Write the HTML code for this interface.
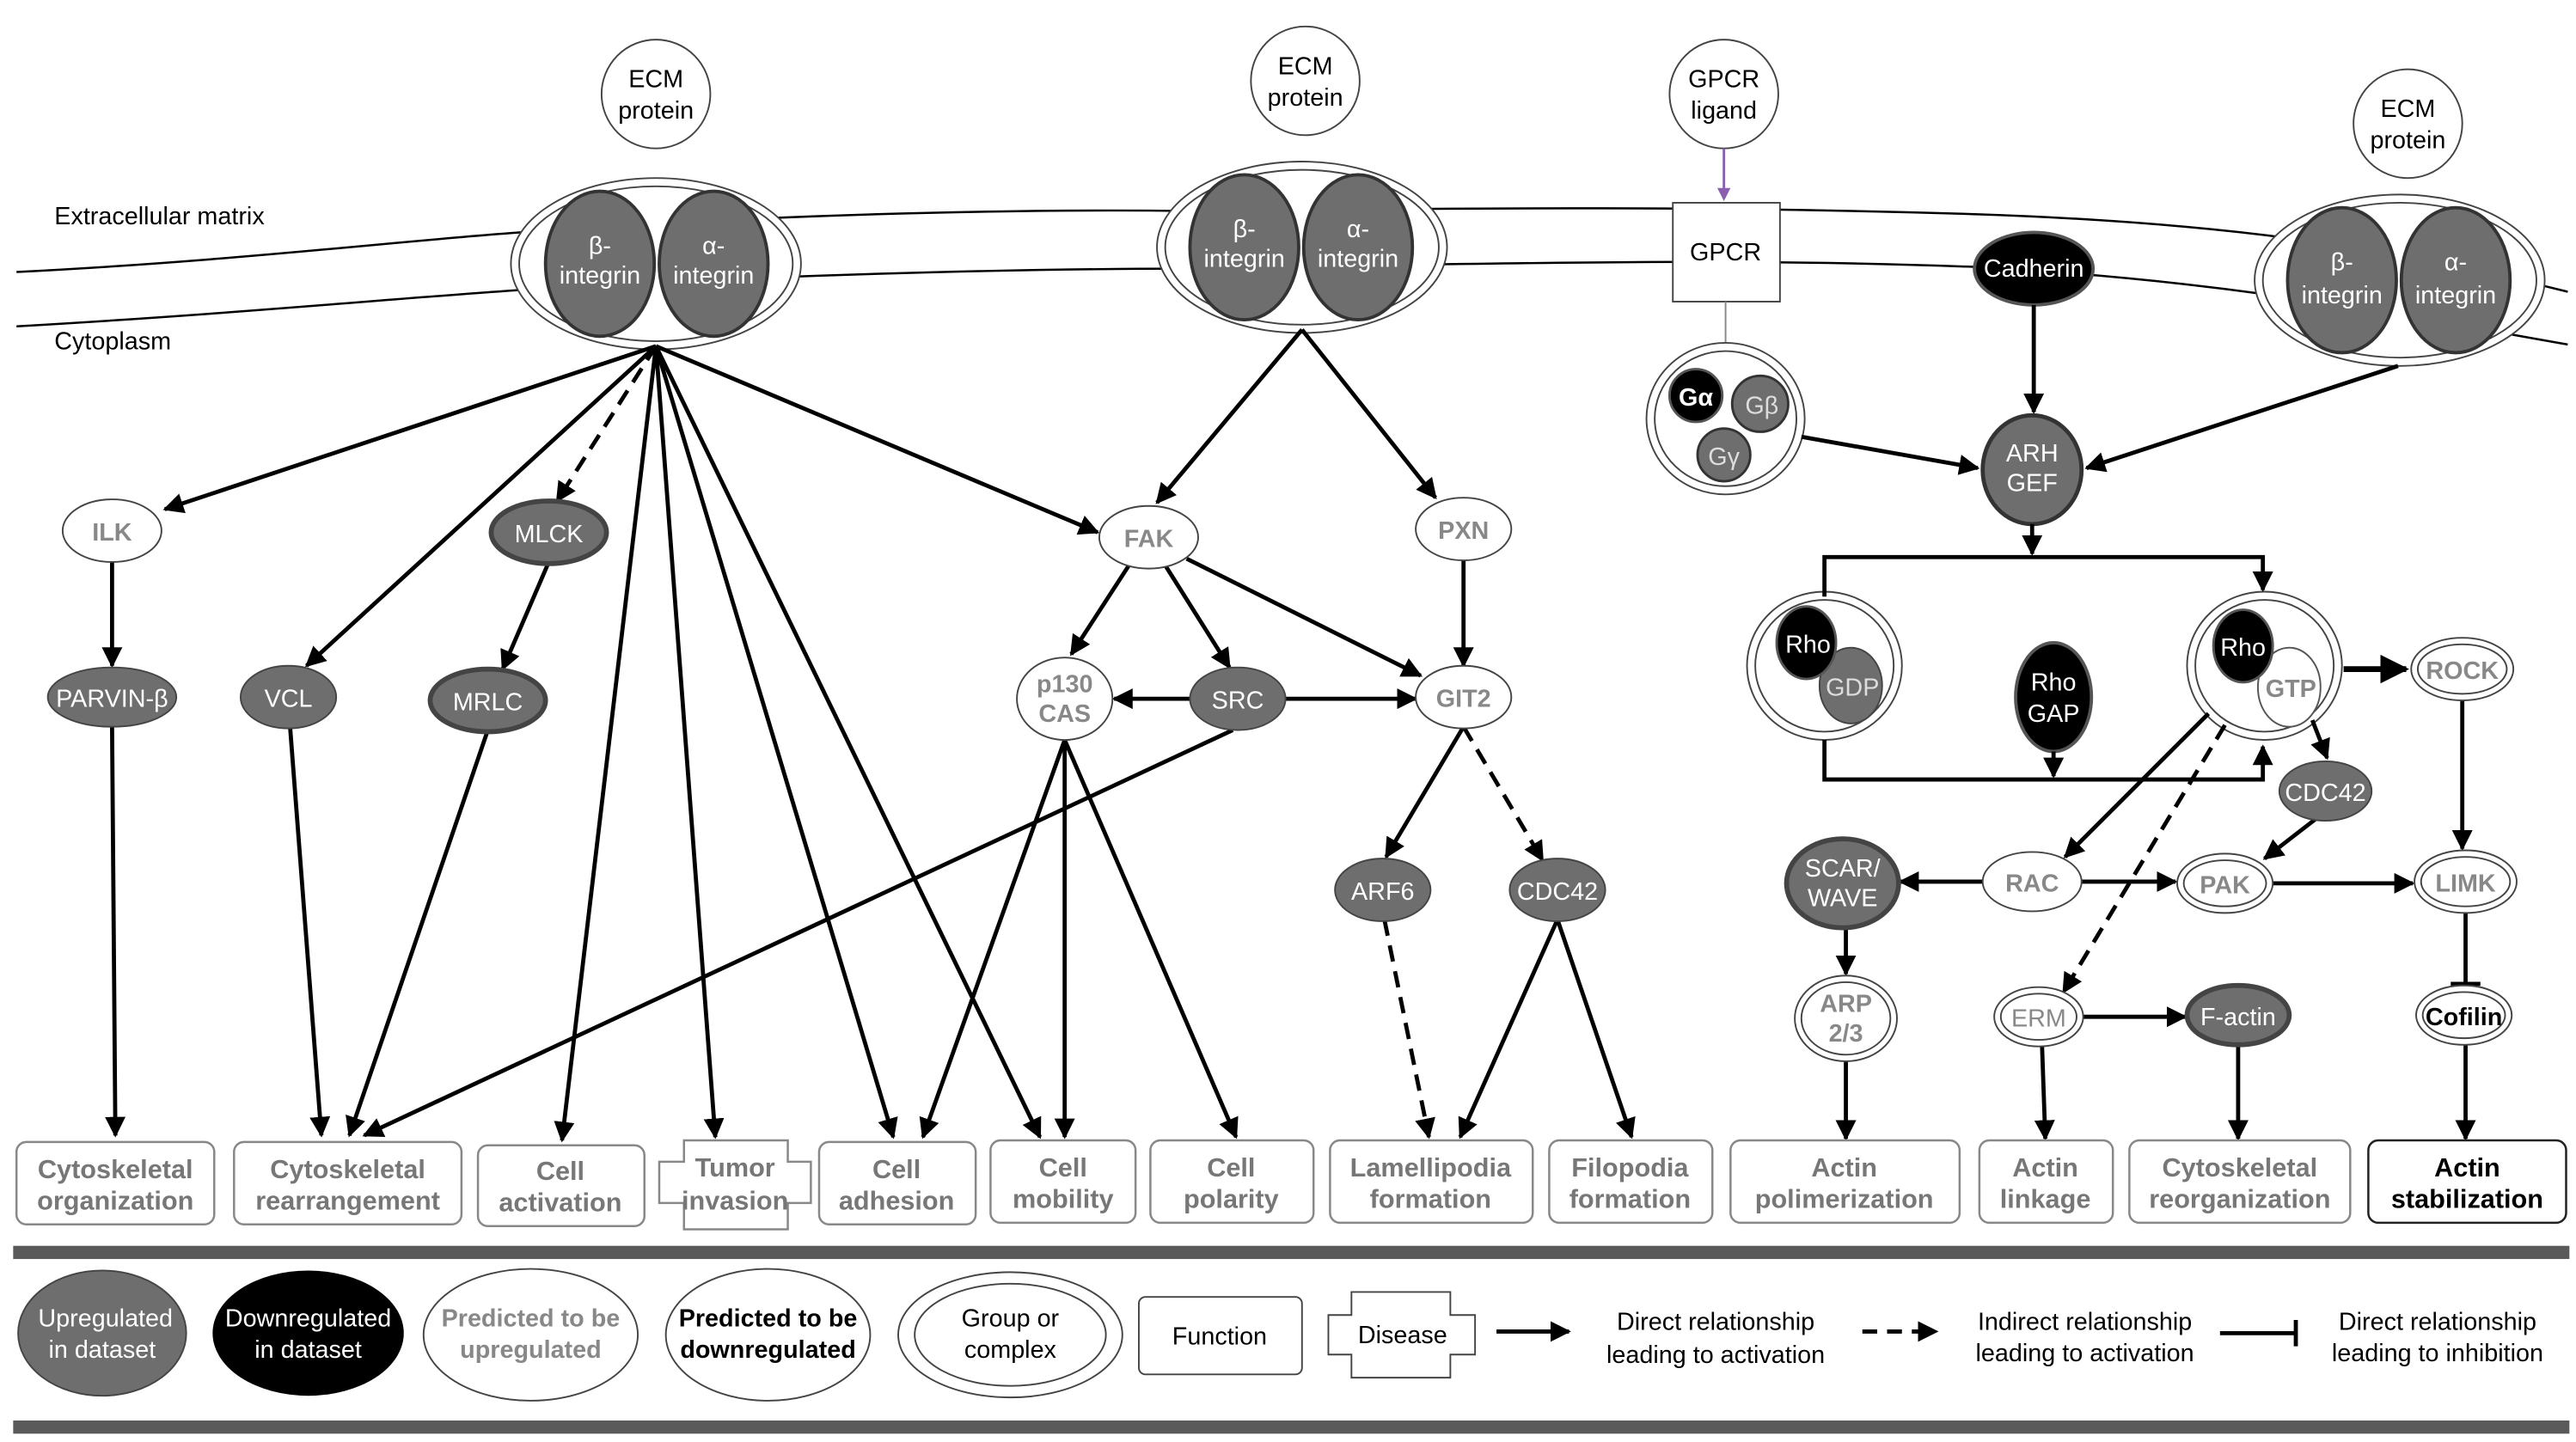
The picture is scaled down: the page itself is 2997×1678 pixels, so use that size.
<!DOCTYPE html>
<html><head><meta charset="utf-8"><style>
html,body{margin:0;padding:0;background:#fff;}
svg{display:block;}
text{font-family:"Liberation Sans",sans-serif;}
</style></head><body>
<svg width="2997" height="1678" viewBox="0 0 1563 875" xmlns="http://www.w3.org/2000/svg">
<defs>
<marker id="a" viewBox="0 0 10 10" refX="9" refY="5" markerWidth="5" markerHeight="5" orient="auto-start-reverse"><path d="M0,0 L10,5 L0,10 z" fill="#000"/></marker>
</defs>
<!-- membranes -->
<path d="M10,165 C150,158 250,145 330,140 C500,128 650,127 720,128 C900,126 1050,125 1200,130 C1350,135 1450,150 1558,177" fill="none" stroke="#000" stroke-width="1.3"/>
<path d="M10,198 C150,190 250,180 330,175 C500,165 650,163 720,163 C900,160 1050,156 1200,162 C1350,170 1450,190 1558,209" fill="none" stroke="#000" stroke-width="1.3"/>
<text x="33" y="136" font-size="15">Extracellular matrix</text>
<text x="33" y="212" font-size="15">Cytoplasm</text>

<g font-size="15" text-anchor="middle">
<!-- ECM circles -->
<g fill="#fff" stroke="#444" stroke-width="1">
<circle cx="398" cy="57" r="33"/><circle cx="792" cy="49" r="33"/><circle cx="1046" cy="57" r="33"/><circle cx="1461" cy="75" r="33"/>
</g>
<text x="398" y="53">ECM</text><text x="398" y="72">protein</text>
<text x="792" y="45">ECM</text><text x="792" y="64">protein</text>
<text x="1046" y="53">GPCR</text><text x="1046" y="72">ligand</text>
<text x="1461" y="71">ECM</text><text x="1461" y="90">protein</text>

<!-- integrin complexes -->
<g id="ic">
</g>
<g fill="#fff" stroke="#444" stroke-width="1">
<ellipse cx="398" cy="160" rx="88" ry="52"/><ellipse cx="398" cy="160" rx="83" ry="47"/>
<ellipse cx="790" cy="150" rx="88" ry="52"/><ellipse cx="790" cy="150" rx="83" ry="47"/>
<ellipse cx="1456" cy="170" rx="88" ry="52"/><ellipse cx="1456" cy="170" rx="83" ry="47"/>
</g>
<g fill="#6e6e6e" stroke="#333" stroke-width="2">
<ellipse cx="364" cy="160" rx="33" ry="44"/><ellipse cx="433" cy="160" rx="33" ry="44"/>
<ellipse cx="755" cy="150" rx="33" ry="44"/><ellipse cx="824" cy="150" rx="33" ry="44"/>
<ellipse cx="1421" cy="170" rx="33" ry="44"/><ellipse cx="1490" cy="170" rx="33" ry="44"/>
</g>
<g fill="#fff">
<text x="364" y="154">β-</text><text x="364" y="172">integrin</text>
<text x="433" y="154">α-</text><text x="433" y="172">integrin</text>
<text x="755" y="144">β-</text><text x="755" y="162">integrin</text>
<text x="824" y="144">α-</text><text x="824" y="162">integrin</text>
<text x="1421" y="164">β-</text><text x="1421" y="184">integrin</text>
<text x="1490" y="164">α-</text><text x="1490" y="184">integrin</text>
</g>

<!-- GPCR -->
<line x1="1046" y1="90" x2="1046" y2="120" stroke="#8a5fb0" stroke-width="1.5"/>
<path d="M1042,114 L1046,122 L1050,114z" fill="#8a5fb0"/>
<rect x="1015" y="123" width="65" height="60" fill="#fff" stroke="#444"/>
<text x="1047" y="158">GPCR</text>
<line x1="1047" y1="183" x2="1047" y2="210" stroke="#888"/>
<ellipse cx="1234" cy="163" rx="36" ry="22" fill="#000" stroke="#555" stroke-width="2"/>
<text x="1234" y="168" fill="#fff">Cadherin</text>

<!-- G complex -->
<ellipse cx="1047" cy="254" rx="48" ry="46" fill="#fff" stroke="#444"/><ellipse cx="1047" cy="254" rx="43" ry="41" fill="#fff" stroke="#444"/>
<circle cx="1068" cy="245" r="17" fill="#6e6e6e" stroke="#333" stroke-width="1.5"/>
<circle cx="1046" cy="276" r="16" fill="#6e6e6e" stroke="#333" stroke-width="1.5"/>
<circle cx="1029" cy="240" r="16" fill="#000" stroke="#555" stroke-width="1.5"/>
<text x="1029" y="246" fill="#fff" font-weight="bold">Gα</text>
<text x="1069" y="251" fill="#ddd">Gβ</text>
<text x="1046" y="282" fill="#ddd">Gγ</text>

<!-- ARH GEF -->
<ellipse cx="1233" cy="285" rx="30" ry="33" fill="#6e6e6e" stroke="#333" stroke-width="2.5"/>
<text x="1233" y="280" fill="#fff">ARH</text><text x="1233" y="298" fill="#fff">GEF</text>

<!-- Rho complexes -->
<g fill="#fff" stroke="#444">
<ellipse cx="1107" cy="404" rx="47" ry="45"/><ellipse cx="1107" cy="404" rx="42" ry="40"/>
<ellipse cx="1374" cy="404" rx="47" ry="45"/><ellipse cx="1374" cy="404" rx="42" ry="40"/>
</g>
<ellipse cx="1123" cy="416" rx="19" ry="23" fill="#6e6e6e" stroke="#444"/>
<ellipse cx="1096" cy="390" rx="18" ry="22" fill="#000" stroke="#555" stroke-width="1.5"/>
<text x="1097" y="396" fill="#fff">Rho</text><text x="1124" y="422" fill="#ddd">GDP</text>
<ellipse cx="1389" cy="417" rx="19" ry="24" fill="#fff" stroke="#555"/>
<ellipse cx="1361" cy="392" rx="18" ry="22" fill="#000" stroke="#555" stroke-width="1.5"/>
<text x="1361" y="398" fill="#fff">Rho</text><text x="1390" y="423" fill="#888" font-weight="bold">GTP</text>
<ellipse cx="1246" cy="423" rx="23" ry="33" fill="#000" stroke="#555" stroke-width="2"/>
<text x="1246" y="419" fill="#fff">Rho</text><text x="1246" y="438" fill="#fff">GAP</text>

<!-- Bracket -->
<g stroke="#000" stroke-width="2.5" fill="none">
<path d="M1107,362 V338 H1373 V358" marker-end="url(#a)"/>
<path d="M1233,318 V336" marker-end="url(#a)"/>
<path d="M1107,449 V473 H1373 V453" marker-end="url(#a)"/>
<path d="M1246,456 V471" marker-end="url(#a)"/>
<path d="M1234,185 V250" marker-end="url(#a)"/>
<path d="M1093,265 L1200,284" marker-end="url(#a)"/>
<path d="M1455,222 L1266,284" marker-end="url(#a)"/>
<path d="M1422,406 H1460" marker-end="url(#a)" stroke-width="3.5"/>
<path d="M1403,437 L1412,460" marker-end="url(#a)"/>
<path d="M1340,433 L1253,520" marker-end="url(#a)"/>
<path d="M1350,440 L1252,602" stroke-dasharray="10,6" marker-end="url(#a)"/>
<path d="M1203,535 L1153,535" marker-end="url(#a)"/>
<path d="M1263,535 L1320,535" marker-end="url(#a)"/>
<path d="M1378,536 L1464,536" marker-end="url(#a)"/>
<path d="M1405,497 L1374,521" marker-end="url(#a)"/>
<path d="M1494,424 V515" marker-end="url(#a)"/>
<path d="M1496,553 V597 M1487,597 H1505"/>
<path d="M1120,562 V591" marker-end="url(#a)"/>
<path d="M1263,617 H1326" marker-end="url(#a)"/>
<path d="M1120,643 V691" marker-end="url(#a)"/>
<path d="M1239,634 L1241,691" marker-end="url(#a)"/>
<path d="M1358,634 V691" marker-end="url(#a)"/>
<path d="M1496,633 V691" marker-end="url(#a)"/>
</g>

<!-- right nodes -->
<g stroke="#444">
<ellipse cx="1494" cy="406" rx="31" ry="19" fill="#fff"/><ellipse cx="1494" cy="406" rx="27" ry="15" fill="#fff"/>
<ellipse cx="1411" cy="480" rx="28" ry="18" fill="#6e6e6e"/>
<ellipse cx="1118" cy="536" rx="34" ry="27" fill="#6e6e6e" stroke-width="3"/>
<ellipse cx="1233" cy="535" rx="30" ry="18" fill="#fff"/>
<ellipse cx="1350" cy="536" rx="29" ry="18" fill="#fff"/><ellipse cx="1350" cy="536" rx="25" ry="14" fill="#fff"/>
<ellipse cx="1496" cy="535" rx="31" ry="19" fill="#fff"/><ellipse cx="1496" cy="535" rx="27" ry="15" fill="#fff"/>
<ellipse cx="1120" cy="618" rx="31" ry="26" fill="#fff"/><ellipse cx="1120" cy="618" rx="27" ry="22" fill="#fff"/>
<ellipse cx="1237" cy="617" rx="27" ry="18" fill="#fff"/><ellipse cx="1237" cy="617" rx="23" ry="14" fill="#fff"/>
<ellipse cx="1358" cy="616" rx="31" ry="18" fill="#6e6e6e" stroke-width="3"/>
<ellipse cx="1495" cy="616" rx="29" ry="18" fill="#fff"/><ellipse cx="1495" cy="616" rx="25" ry="14" fill="#fff"/>
</g>
<text x="1494" y="412" fill="#888" font-weight="bold">ROCK</text>
<text x="1411" y="486" fill="#fff">CDC42</text>
<text x="1118" y="532" fill="#fff">SCAR/</text><text x="1118" y="550" fill="#fff">WAVE</text>
<text x="1233" y="541" fill="#888" font-weight="bold">RAC</text>
<text x="1350" y="542" fill="#888" font-weight="bold">PAK</text>
<text x="1496" y="541" fill="#888" font-weight="bold">LIMK</text>
<text x="1120" y="614" fill="#888" font-weight="bold">ARP</text><text x="1120" y="632" fill="#888" font-weight="bold">2/3</text>
<text x="1237" y="623" fill="#888">ERM</text>
<text x="1358" y="622" fill="#fff">F-actin</text>
<text x="1495" y="622" font-weight="bold">Cofilin</text>

<!-- left edges -->
<g stroke="#000" stroke-width="2.5" fill="none">
<path d="M398,210 L100,309" marker-end="url(#a)"/>
<path d="M398,210 L186,404" marker-end="url(#a)"/>
<path d="M398,210 L338,304" stroke-dasharray="10,6" marker-end="url(#a)"/>
<path d="M398,210 L341,692" marker-end="url(#a)"/>
<path d="M398,210 L434,690" marker-end="url(#a)"/>
<path d="M398,210 L542,690" marker-end="url(#a)"/>
<path d="M398,210 L631,690" marker-end="url(#a)"/>
<path d="M398,210 L666,323" marker-end="url(#a)"/>
<path d="M68,341 V404" marker-end="url(#a)"/>
<path d="M68,441 L70,689" marker-end="url(#a)"/>
<path d="M176,441 L195,689" marker-end="url(#a)"/>
<path d="M296,443 L212,689" marker-end="url(#a)"/>
<path d="M748,443 L221,689" marker-end="url(#a)"/>
<path d="M333,341 L305,406" marker-end="url(#a)"/>
<path d="M790,200 L702,305" marker-end="url(#a)"/>
<path d="M790,200 L871,302" marker-end="url(#a)"/>
<path d="M685,343 L650,397" marker-end="url(#a)"/>
<path d="M707,343 L746,405" marker-end="url(#a)"/>
<path d="M720,339 L862,410" marker-end="url(#a)"/>
<path d="M888,339 V404" marker-end="url(#a)"/>
<path d="M676,424 L722,424" marker-start="url(#a)"/>
<path d="M780,424 L859,424" marker-end="url(#a)"/>
<path d="M646,449 L560,690" marker-end="url(#a)"/>
<path d="M646,449 L646,690" marker-end="url(#a)"/>
<path d="M646,449 L750,690" marker-end="url(#a)"/>
<path d="M888,441 L841,520" marker-end="url(#a)"/>
<path d="M888,441 L936,522" stroke-dasharray="10,6" marker-end="url(#a)"/>
<path d="M840,558 L867,690" stroke-dasharray="10,6" marker-end="url(#a)"/>
<path d="M945,558 L886,690" marker-end="url(#a)"/>
<path d="M945,558 L990,690" marker-end="url(#a)"/>
</g>

<!-- left nodes -->
<g stroke="#444">
<ellipse cx="68" cy="322" rx="30" ry="19" fill="#fff"/>
<ellipse cx="68" cy="423" rx="39" ry="18" fill="#6e6e6e"/>
<ellipse cx="175" cy="423" rx="29" ry="19" fill="#6e6e6e"/>
<ellipse cx="333" cy="323" rx="35" ry="19" fill="#6e6e6e" stroke-width="3"/>
<ellipse cx="296" cy="425" rx="35" ry="19" fill="#6e6e6e" stroke-width="3"/>
<ellipse cx="697" cy="326" rx="30" ry="19" fill="#fff"/>
<ellipse cx="888" cy="321" rx="29" ry="19" fill="#fff"/>
<ellipse cx="646" cy="424" rx="29" ry="25" fill="#fff"/>
<ellipse cx="751" cy="424" rx="29" ry="19" fill="#6e6e6e"/>
<ellipse cx="888" cy="423" rx="29" ry="19" fill="#fff"/>
<ellipse cx="839" cy="540" rx="29" ry="19" fill="#6e6e6e"/>
<ellipse cx="945" cy="540" rx="29" ry="19" fill="#6e6e6e"/>
</g>
<text x="68" y="328" fill="#888" font-weight="bold">ILK</text>
<text x="68" y="429" fill="#fff">PARVIN-β</text>
<text x="175" y="429" fill="#fff">VCL</text>
<text x="333" y="329" fill="#fff">MLCK</text>
<text x="296" y="431" fill="#fff">MRLC</text>
<text x="697" y="332" fill="#888" font-weight="bold">FAK</text>
<text x="888" y="327" fill="#888" font-weight="bold">PXN</text>
<text x="646" y="420" fill="#888" font-weight="bold">p130</text><text x="646" y="438" fill="#888" font-weight="bold">CAS</text>
<text x="751" y="430" fill="#fff">SRC</text>
<text x="888" y="429" fill="#888" font-weight="bold">GIT2</text>
<text x="839" y="546" fill="#fff">ARF6</text>
<text x="945" y="546" fill="#fff">CDC42</text>

<!-- function boxes -->
<g fill="#fff" stroke="#888" stroke-width="1.3">
<rect x="10" y="693" width="120" height="50" rx="6"/>
<rect x="142" y="693" width="138" height="50" rx="6"/>
<rect x="290" y="695" width="101" height="49" rx="6"/>
<polygon points="415,692 478,692 478,705 492,705 492,730 478,730 478,746 415,746 415,730 400,730 400,705 415,705"/>
<rect x="497" y="693" width="95" height="50" rx="6"/>
<rect x="601" y="692" width="88" height="50" rx="6"/>
<rect x="698" y="692" width="99" height="50" rx="6"/>
<rect x="807" y="692" width="123" height="50" rx="6"/>
<rect x="940" y="692" width="99" height="50" rx="6"/>
<rect x="1050" y="692" width="139" height="50" rx="6"/>
<rect x="1201" y="692" width="81" height="50" rx="6"/>
<rect x="1292" y="692" width="134" height="50" rx="6"/>
<rect x="1437" y="692" width="120" height="50" rx="6" stroke="#222"/>
</g>
<g fill="#777" font-weight="bold" font-size="16">
<text x="70" y="715">Cytoskeletal</text><text x="70" y="734">organization</text>
<text x="211" y="715">Cytoskeletal</text><text x="211" y="734">rearrangement</text>
<text x="340" y="716">Cell</text><text x="340" y="735">activation</text>
<text x="446" y="714">Tumor</text><text x="446" y="734">invasion</text>
<text x="544" y="715">Cell</text><text x="544" y="734">adhesion</text>
<text x="645" y="714">Cell</text><text x="645" y="733">mobility</text>
<text x="747" y="714">Cell</text><text x="747" y="733">polarity</text>
<text x="868" y="714">Lamellipodia</text><text x="868" y="733">formation</text>
<text x="989" y="714">Filopodia</text><text x="989" y="733">formation</text>
<text x="1119" y="714">Actin</text><text x="1119" y="733">polimerization</text>
<text x="1241" y="714">Actin</text><text x="1241" y="733">linkage</text>
<text x="1359" y="714">Cytoskeletal</text><text x="1359" y="733">reorganization</text>
<text x="1497" y="714" fill="#000">Actin</text><text x="1497" y="733" fill="#000">stabilization</text>
</g>

<!-- bars -->
<rect x="8" y="756" width="1551" height="8" fill="#5a5a5a"/>
<rect x="8" y="862" width="1551" height="8" fill="#5a5a5a"/>

<!-- legend -->
<ellipse cx="62" cy="809" rx="51" ry="38" fill="#6e6e6e" stroke="#444"/>
<text x="64" y="805" fill="#fff">Upregulated</text><text x="62" y="824" fill="#fff">in dataset</text>
<ellipse cx="187" cy="809" rx="58" ry="38" fill="#000"/>
<text x="187" y="805" fill="#fff">Downregulated</text><text x="187" y="824" fill="#fff">in dataset</text>
<ellipse cx="322" cy="810" rx="65" ry="40" fill="#fff" stroke="#444"/>
<text x="322" y="805" fill="#888" font-weight="bold">Predicted  to be</text><text x="322" y="824" fill="#888" font-weight="bold">upregulated</text>
<ellipse cx="466" cy="810" rx="62" ry="40" fill="#fff" stroke="#444"/>
<text x="466" y="805" font-weight="bold">Predicted to be</text><text x="466" y="824" font-weight="bold">downregulated</text>
<ellipse cx="613" cy="810" rx="68" ry="38" fill="#fff" stroke="#444"/><ellipse cx="613" cy="810" rx="58" ry="31" fill="#fff" stroke="#444"/>
<text x="613" y="805">Group or</text><text x="613" y="824">complex</text>
<rect x="691" y="787" width="99" height="47" rx="4" fill="#fff" stroke="#444"/>
<text x="740" y="816">Function</text>
<polygon points="820,784 880,784 880,798 895,798 895,822 880,822 880,836 820,836 820,822 806,822 806,798 820,798" fill="#fff" stroke="#444"/>
<text x="851" y="815">Disease</text>
<g stroke="#000" stroke-width="2.5" fill="none">
<path d="M908,808 H952" marker-end="url(#a)"/>
<path d="M1130,808 H1175" stroke-dasharray="9,6" marker-end="url(#a)"/>
<path d="M1347,809 H1392 M1393,801 V817"/>
</g>
<text x="1041" y="807">Direct relationship</text><text x="1041" y="827">leading to activation</text>
<text x="1265" y="807">Indirect relationship</text><text x="1265" y="826">leading to activation</text>
<text x="1479" y="807">Direct relationship</text><text x="1479" y="826">leading to inhibition</text>
</g>
</svg>
</body></html>
